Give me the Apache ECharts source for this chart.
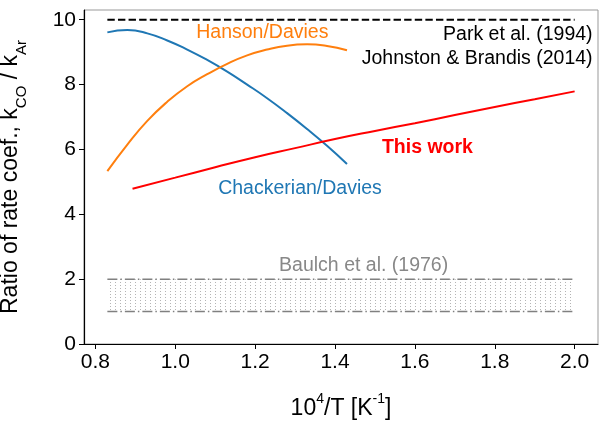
<!DOCTYPE html>
<html>
<head>
<meta charset="utf-8">
<script src="https://cdn.jsdelivr.net/npm/echarts@6/dist/echarts.min.js"></script>
<style>
  html, body { margin: 0; padding: 0; background: #fff; }
  #chart { width: 599px; height: 421px; }
</style>
</head>
<body>
<div id="chart"></div>
<script>
// tick labels
const xTicks = [0.8, 1.0, 1.2, 1.4, 1.6, 1.8, 2.0];
const yTicks = [0, 2, 4, 6, 8, 10];

// Chackerian/Davies
const chackX = [0.83, 0.88, 0.93, 0.98, 1.03, 1.08, 1.13, 1.18, 1.23, 1.28, 1.33, 1.38, 1.43];
const chackY = [9.61, 9.68, 9.58, 9.36, 9.08, 8.76, 8.4, 8.0, 7.58, 7.12, 6.63, 6.11, 5.55];

// Hanson/Davies
const hansonX = [0.83, 0.88, 0.93, 0.98, 1.03, 1.08, 1.13, 1.18, 1.23, 1.28, 1.33, 1.38, 1.43];
const hansonY = [5.33, 6.15, 6.88, 7.47, 7.95, 8.32, 8.64, 8.9, 9.08, 9.2, 9.24, 9.19, 9.06];

// This work
const workX = [0.893, 1.0, 1.1, 1.2, 1.3, 1.4, 1.5, 1.6, 1.7, 1.8, 1.9, 2.0];
const workY = [4.79, 5.13, 5.45, 5.76, 6.04, 6.32, 6.57, 6.81, 7.06, 7.31, 7.55, 7.79];

// Park et al. (1994) / Johnston & Brandis (2014)
const parkX = [0.83, 2.0];
const parkY = [10, 10];

// Baulch et al. (1976) band
const baulchX = [0.83, 2.0];
const baulchLow = [1, 1];
const baulchHigh = [2, 2];

const FONT = 'Liberation Sans, Arial, sans-serif';

let pair = (xs, ys) => xs.map((x, i) => [x, ys[i]]);

// dotted hatch for the band
let hatch = document.createElement('canvas');
hatch.width = 5;
hatch.height = 3;
let hctx = hatch.getContext('2d');
hctx.fillStyle = '#b4b4b4';
hctx.fillRect(0, 0, 1, 1);

let myChart = echarts.init(document.getElementById('chart'));

let option = {
  animation: false,
  grid: {
    left: 84, right: 1, top: 10, bottom: 77,
    containLabel: false, outerBoundsMode: 'none',
    show: true, borderColor: '#999', borderWidth: 1
  },
  xAxis: {
    type: 'value',
    min: 0.7715,
    max: 2.0585,
    splitLine: { show: false },
    axisLine: { lineStyle: { color: '#000', width: 1.2 } },
    axisTick: { inside: false, length: 5, customValues: xTicks, lineStyle: { color: '#000' } },
    axisLabel: {
      customValues: xTicks,
      formatter: v => v.toFixed(1),
      color: '#000', fontSize: 21, fontFamily: FONT, margin: 8
    },
    name: '{a|10}{s|4}{a|/T [K}{s|-1}{a|]}',
    nameLocation: 'middle',
    nameGap: 48,
    nameTextStyle: {
      rich: {
        a: { fontSize: 23, fontFamily: FONT, color: '#000', lineHeight: 28, verticalAlign: 'bottom' },
        s: { fontSize: 14, fontFamily: FONT, color: '#000', lineHeight: 28, verticalAlign: 'top' }
      }
    }
  },
  yAxis: {
    type: 'value',
    min: 0,
    max: 10.3,
    splitLine: { show: false },
    axisLine: { show: true, lineStyle: { color: '#000', width: 1.2 } },
    axisTick: { show: true, inside: false, length: 5, customValues: yTicks, lineStyle: { color: '#000' } },
    axisLabel: { customValues: yTicks, color: '#000', fontSize: 21, fontFamily: FONT, margin: 8 },
    name: '{a|Ratio of rate coef., k}{b|CO}{a| / k}{b|Ar}',
    nameLocation: 'middle',
    nameGap: 55,
    nameTextStyle: {
      rich: {
        a: { fontSize: 23, fontFamily: FONT, color: '#000', lineHeight: 30, verticalAlign: 'top' },
        b: { fontSize: 15, fontFamily: FONT, color: '#000', lineHeight: 30, verticalAlign: 'bottom' }
      }
    }
  },
  series: [
    {
      name: 'Baulch low', type: 'line', symbol: 'none',
      data: pair(baulchX, baulchLow),
      lineStyle: { color: '#808080', width: 1.5, type: [10, 3, 1.5, 3] },
      markArea: {
        silent: true,
        itemStyle: { color: { image: hatch, repeat: 'repeat' } },
        data: [[{ xAxis: baulchX[0], yAxis: baulchLow[0] }, { xAxis: baulchX[1], yAxis: baulchHigh[1] }]]
      }
    },
    {
      name: 'Baulch high', type: 'line', symbol: 'none',
      data: pair(baulchX, baulchHigh),
      lineStyle: { color: '#808080', width: 1.5, type: [10, 3, 1.5, 3] }
    },
    {
      name: 'Park', type: 'line', symbol: 'none',
      data: pair(parkX, parkY),
      lineStyle: { color: '#000', width: 2, type: [7.4, 3.2] }
    },
    {
      name: 'Chackerian/Davies', type: 'line', symbol: 'none', smooth: 0.5,
      data: pair(chackX, chackY),
      lineStyle: { color: '#1f77b4', width: 2 }
    },
    {
      name: 'Hanson/Davies', type: 'line', symbol: 'none', smooth: 0.5,
      data: pair(hansonX, hansonY),
      lineStyle: { color: '#ff7f0e', width: 2 }
    },
    {
      name: 'This work', type: 'line', symbol: 'none', smooth: 0.5,
      data: pair(workX, workY),
      lineStyle: { color: '#ff0000', width: 2 }
    }
  ]
};

myChart.setOption(option);

// text annotations anchored at data coordinates
let notes = [
  { text: 'Hanson/Davies', at: [1.0525, 9.6], align: 'left', color: '#ff7f0e' },
  { text: 'Park et al. (1994)', at: [2.045, 9.54], align: 'right', color: '#000' },
  { text: 'Johnston & Brandis (2014)', at: [2.045, 8.8], align: 'right', color: '#000' },
  { text: 'This work', at: [1.5175, 6.06], align: 'left', color: '#ff0000', bold: true },
  { text: 'Chackerian/Davies', at: [1.1075, 4.8], align: 'left', color: '#1f77b4' },
  { text: 'Baulch et al. (1976)', at: [1.26, 2.43], align: 'left', color: '#888' }
];

myChart.setOption({
  graphic: notes.map(n => {
    let p = myChart.convertToPixel({ gridIndex: 0 }, n.at);
    return {
      type: 'text',
      x: p[0],
      y: p[1],
      silent: true,
      style: {
        text: n.text,
        fill: n.color,
        font: (n.bold ? 'bold ' : '') + '19.5px ' + FONT,
        textAlign: n.align,
        textVerticalAlign: 'middle'
      }
    };
  })
});
</script>
</body>
</html>
